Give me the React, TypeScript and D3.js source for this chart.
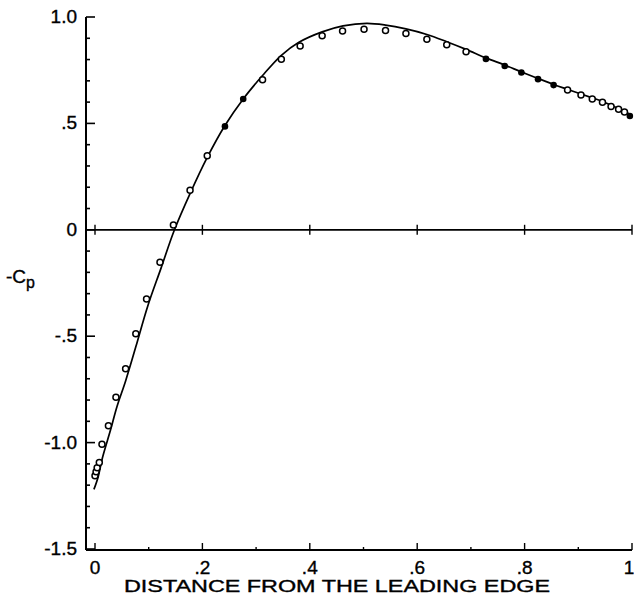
import React from "react";
import * as d3 from "d3";

const curveX = [-0.002, 0.006, 0.014, 0.029, 0.041, 0.057, 0.076, 0.098, 0.123, 0.148, 0.177, 0.209, 0.242, 0.276, 0.312, 0.347, 0.379, 0.423, 0.462, 0.506, 0.541, 0.579, 0.618, 0.655, 0.691, 0.728, 0.763, 0.794, 0.825, 0.854, 0.88, 0.905, 0.926, 0.945, 0.961, 0.975, 0.986, 1.0];
const curveY = [-1.22, -1.16, -1.07, -0.94, -0.83, -0.71, -0.55, -0.36, -0.18, 0.0, 0.17, 0.34, 0.49, 0.615, 0.725, 0.82, 0.88, 0.93, 0.958, 0.97, 0.962, 0.944, 0.918, 0.884, 0.848, 0.808, 0.774, 0.742, 0.711, 0.683, 0.66, 0.638, 0.62, 0.603, 0.585, 0.57, 0.558, 0.535];

const openX = [0.0, 0.002, 0.004, 0.008, 0.013, 0.025, 0.039, 0.057, 0.076, 0.096, 0.121, 0.146, 0.177, 0.209, 0.312, 0.347, 0.382, 0.423, 0.461, 0.501, 0.541, 0.579, 0.618, 0.655, 0.691, 0.88, 0.905, 0.926, 0.945, 0.961, 0.975, 0.986];
const openY = [-1.156, -1.137, -1.118, -1.094, -1.008, -0.921, -0.787, -0.653, -0.488, -0.325, -0.153, 0.023, 0.186, 0.348, 0.705, 0.801, 0.864, 0.912, 0.934, 0.942, 0.936, 0.922, 0.895, 0.87, 0.837, 0.657, 0.634, 0.615, 0.599, 0.58, 0.566, 0.553];

const filledX = [0.242, 0.276, 0.728, 0.763, 0.794, 0.825, 0.854, 0.996];
const filledY = [0.486, 0.615, 0.803, 0.77, 0.739, 0.708, 0.68, 0.535];

const xTickValues = [0, 0.2, 0.4, 0.6, 0.8, 1];
const xTickLabels = ["0", ".2", ".4", ".6", ".8", "1"];
const yTickValues = [1.0, 0.5, 0, -0.5, -1.0, -1.5];
const yTickLabels = ["1.0", ".5", "0", "-.5", "-1.0", "-1.5"];

const xTitle = "DISTANCE FROM THE LEADING EDGE";

export default function App() {
  const x = d3.scaleLinear().domain([0, 1]).range([95, 632]);
  const y = d3.scaleLinear().domain([-1.5, 1]).range([549, 17]);
  const axisX = 86;
  const bottomY = 550;
  const zeroY = y(0);
  const font = "'Liberation Sans', Arial, Helvetica, sans-serif";

  const curveData = curveX.map((v, i) => [v, curveY[i]] as [number, number]);
  const line = d3
    .line<[number, number]>()
    .x((d) => x(d[0]))
    .y((d) => y(d[1]))
    .curve(d3.curveCatmullRom.alpha(0.5));

  const yMinor = d3.range(-15, 11).map((k) => k / 10);
  const xMinor = d3.range(0, 11).map((k) => k / 10);

  const textStyle = { stroke: "#000", strokeWidth: 0.35 };

  return (
    <svg
      width={634}
      height={607}
      style={{ position: "absolute", left: 0, top: 0, background: "#fff" }}
      fontFamily={font}
    >
      {/* y axis */}
      <line x1={axisX} x2={axisX} y1={y(1)} y2={bottomY} stroke="#000" strokeWidth={2} />
      {yMinor.map((v, i) => {
        const major = Math.abs(v * 2 - Math.round(v * 2)) < 1e-6;
        return (
          <line
            key={"ym" + i}
            x1={axisX}
            x2={axisX + (major ? 9 : 4)}
            y1={y(v)}
            y2={y(v)}
            stroke="#000"
            strokeWidth={1.6}
          />
        );
      })}
      {yTickValues.map((v, i) => (
        <text
          key={"yl" + i}
          x={77}
          y={y(v) + 6}
          textAnchor="end"
          fontSize={19}
          fill="#000"
          style={textStyle}
        >
          {yTickLabels[i]}
        </text>
      ))}
      {/* bottom axis */}
      <line x1={axisX} x2={632} y1={bottomY} y2={bottomY} stroke="#000" strokeWidth={2} />
      {xMinor.map((v, i) => {
        const major = i % 2 === 0;
        return (
          <line
            key={"xm" + i}
            x1={x(v)}
            x2={x(v)}
            y1={bottomY}
            y2={bottomY - (major ? 7 : 3)}
            stroke="#000"
            strokeWidth={1.4}
          />
        );
      })}
      {xTickValues.map((v, i) => (
        <text
          key={"xl" + i}
          x={i === xTickValues.length - 1 ? x(v) - 3 : x(v)}
          y={574}
          textAnchor="middle"
          fontSize={19}
          fill="#000"
          style={textStyle}
        >
          {xTickLabels[i]}
        </text>
      ))}
      <text
        x={337}
        y={592}
        textAnchor="middle"
        fontSize={16}
        fill="#000"
        textLength={426}
        lengthAdjust="spacingAndGlyphs"
        style={textStyle}
      >
        {xTitle}
      </text>
      {/* zero line */}
      <line x1={axisX} x2={632} y1={zeroY} y2={zeroY} stroke="#000" strokeWidth={1.8} />
      {xTickValues.map((v, i) => (
        <line
          key={"zt" + i}
          x1={x(v)}
          x2={x(v)}
          y1={zeroY - 5}
          y2={zeroY + 5}
          stroke="#000"
          strokeWidth={1.4}
        />
      ))}
      {/* y label */}
      <text x={6} y={283} fontSize={19} fill="#000" style={textStyle}>
        -C
        <tspan fontSize={16} dy={5}>p</tspan>
      </text>
      {/* curve */}
      <path d={line(curveData) || ""} fill="none" stroke="#000" strokeWidth={1.7} />
      {/* points */}
      {openX.map((v, i) => (
        <circle
          key={"o" + i}
          cx={x(v)}
          cy={y(openY[i])}
          r={3}
          fill="#fff"
          stroke="#000"
          strokeWidth={1.5}
        />
      ))}
      {filledX.map((v, i) => (
        <circle key={"f" + i} cx={x(v)} cy={y(filledY[i])} r={3.3} fill="#000" />
      ))}
    </svg>
  );
}
